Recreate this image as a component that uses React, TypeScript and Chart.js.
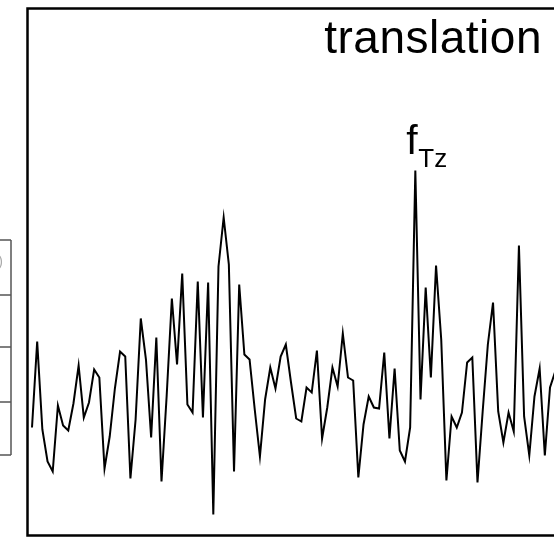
import React, { useEffect, useRef } from "react";
import { Chart, registerables } from "chart.js";

Chart.register(...registerables);

// Spectrum amplitude (arbitrary units) per frequency bin
const amplitude: number[] = [
  108, 194, 106, 74, 64, 130, 110, 105, 132, 170,
  118, 133, 166, 158, 67, 99, 147, 184, 179, 57,
  116, 217, 176, 98, 198, 54, 140, 237, 171, 262,
  131, 123, 254, 118, 253, 21, 269, 318, 271, 64,
  251, 181, 176, 126, 79, 136, 168, 147, 179, 191,
  153, 117, 114, 148, 143, 185, 97, 128, 168, 149,
  202, 158, 155, 58, 111, 139, 128, 127, 183, 97,
  167, 85, 74, 108, 365, 136, 248, 158, 270, 196,
  55, 119, 108, 123, 173, 178, 53, 124, 191, 233,
  124, 93, 123, 104, 290, 119, 80, 139, 167, 80,
  148, 164,
];
const bins: number[] = amplitude.map((_, i) => i + 1);

const panelTitle = "translation";
const peakLabel = "f";
const peakSub = "Tz";
const peakBin = 75;

const FONT = "'Liberation Sans', Arial, Helvetica, sans-serif";

export default function App() {
  const ref = useRef<HTMLCanvasElement | null>(null);

  useEffect(() => {
    const canvas = ref.current;
    if (!canvas) return;

    const decor = {
      id: "decor",
      afterDraw(chart: any) {
        const { ctx, chartArea } = chart;
        const xs = chart.scales.x;
        const ys = chart.scales.y;
        ctx.save();
        // panel frame
        ctx.strokeStyle = "#000";
        ctx.lineWidth = 2.5;
        ctx.beginPath();
        ctx.moveTo(chartArea.right + 20, chartArea.top);
        ctx.lineTo(chartArea.left, chartArea.top);
        ctx.lineTo(chartArea.left, chartArea.bottom);
        ctx.lineTo(chartArea.right + 20, chartArea.bottom);
        ctx.stroke();

        // neighbouring panel fragment on the left
        ctx.strokeStyle = "#555";
        ctx.lineWidth = 1.5;
        const rows = [240, 295, 347, 402, 455];
        ctx.beginPath();
        rows.forEach((r) => {
          ctx.moveTo(0, r);
          ctx.lineTo(11, r);
        });
        ctx.moveTo(11, rows[0]);
        ctx.lineTo(11, rows[rows.length - 1]);
        ctx.stroke();
        ctx.fillStyle = "#aaa";
        ctx.font = `14px ${FONT}`;
        ctx.textAlign = "right";
        ctx.textBaseline = "alphabetic";
        ctx.fillText(")", 3, 266);

        // title
        ctx.fillStyle = "#000";
        ctx.font = `46px ${FONT}`;
        try {
          (ctx as any).letterSpacing = "0.5px";
        } catch (e) {}
        ctx.textAlign = "right";
        ctx.fillText(panelTitle, 542, 53);
        try {
          (ctx as any).letterSpacing = "0px";
        } catch (e) {}

        // peak label
        const px = xs.getPixelForValue(peakBin);
        const py = ys.getPixelForValue(amplitude[peakBin - 1]);
        ctx.textAlign = "left";
        ctx.font = `41px ${FONT}`;
        ctx.fillText(peakLabel, px - 9, py - 17);
        ctx.font = `26px ${FONT}`;
        ctx.fillText(peakSub, px + 3, py - 4);
        ctx.restore();
      },
    };

    const chart = new Chart(canvas, {
      type: "line",
      data: {
        datasets: [
          {
            data: bins.map((b, i) => ({ x: b, y: amplitude[i] })),
            borderColor: "#000",
            borderWidth: 2,
            pointRadius: 0,
            tension: 0,
            fill: false,
          },
        ],
      },
      options: {
        animation: false,
        responsive: false,
        devicePixelRatio: 1,
        layout: { padding: { left: 27.5, top: 8.5, right: 0, bottom: 2.5 } },
        plugins: {
          legend: { display: false },
          tooltip: { enabled: false },
        },
        scales: {
          x: { type: "linear", min: 0.131, max: 101.77, display: false },
          y: { type: "linear", min: 0, max: 527, display: false },
        },
      },
      plugins: [decor],
    });

    return () => chart.destroy();
  }, []);

  return (
    <div
      style={{
        position: "fixed",
        left: 0,
        top: 0,
        width: 554,
        height: 538,
        overflow: "hidden",
        background: "#fff",
      }}
    >
      <canvas ref={ref} width={554} height={538} style={{ display: "block" }} />
    </div>
  );
}
